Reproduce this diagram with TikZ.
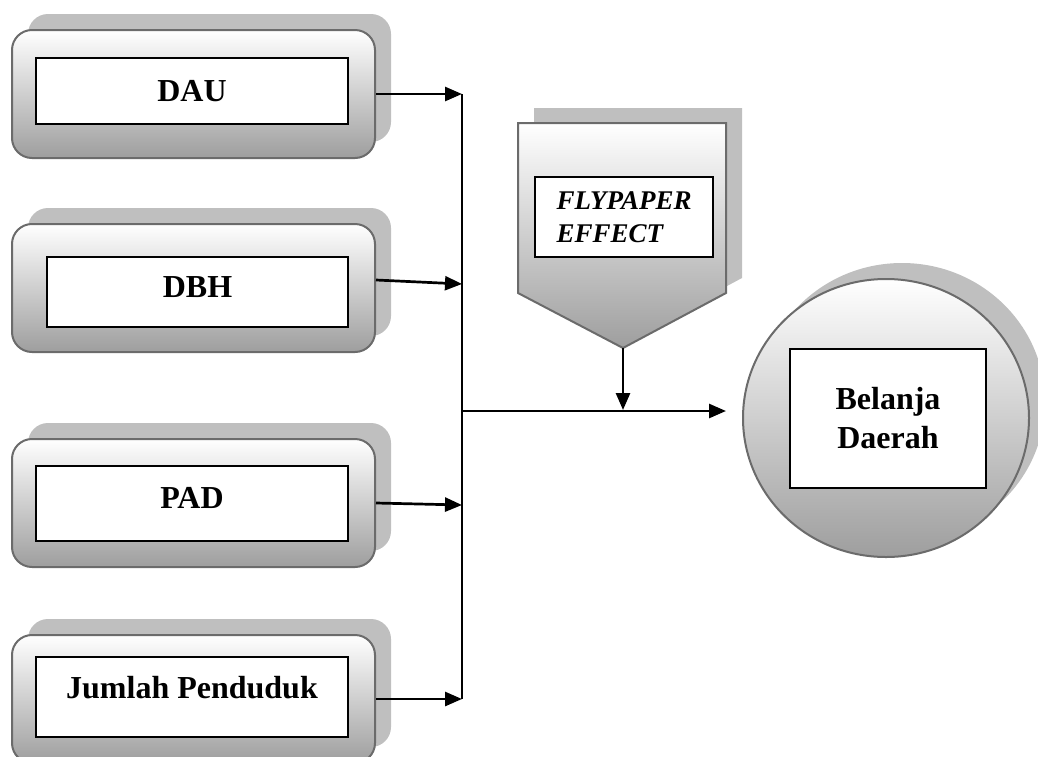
\documentclass[tikz,border=0pt]{standalone}
\usepackage{fontspec}
\setmainfont{Liberation Serif}
\usepackage{tikz}
\usetikzlibrary{arrows.meta,positioning,shadows,shapes.geometric}
\tikzset{
frontbox/.style={draw=black!58, line width=1pt, top color=white, bottom color=black!38},
backshadow/.style={general shadow={fill=black!25, shadow xshift=8pt, shadow yshift=8pt}},
sourcebox/.style={frontbox, backshadow, rounded corners=10pt, minimum width=181.5pt, minimum height=64pt, inner sep=0pt},
labelbox/.style={draw=black, fill=white, line width=1pt, inner sep=0pt, font=\fontsize{16}{19.5}\selectfont\bfseries}
      }
\tikzstyle{arrow} = [line width=1.35pt,-{Triangle[length=8.5pt,width=7pt]}]

\begin{document}
\begin{tikzpicture}[x=0.5pt,y=-0.5pt]
                \useasboundingbox (0,0) rectangle (1038,756);
                \clip (0,0) rectangle (1038,756);
                % variabel bebas
                \node[sourcebox] (dau) at (193.5,94) {};
                \node[sourcebox] (dbh) at (193.5,288) {};
                \node[sourcebox] (pad) at (193.5,503) {};
                \node[sourcebox] (pend) at (193.5,699) {};
                \node[labelbox, minimum width=156pt, minimum height=33pt] (daut) at (192,91) {DAU};
                \node[labelbox, minimum width=150.5pt, minimum height=35pt, text depth=5pt] (dbht) at (197.5,292) {DBH};
                \node[labelbox, minimum width=156pt, minimum height=37.5pt, text depth=6pt] (padt) at (192,503.5) {PAD};
                \node[labelbox, minimum width=156pt, minimum height=40pt, text depth=10pt] (pendt) at (192,697) {Jumlah Penduduk};
                % flypaper effect
                \fill[black!25] (534,108) -- (742,108) -- (742,278) -- (639,333) -- (534,278) -- cycle;
                \draw[frontbox] (518,123) -- (726,123) -- (726,293) -- (623,348) -- (518,293) -- cycle;
                \coordinate (flytip) at (623,348);
                \node[labelbox, font=\fontsize{13.5}{16.5}\selectfont\bfseries\itshape, align=left, minimum width=89pt, minimum height=40pt] (fly) at (624,217) {FLYPAPER\\EFFECT};
                % belanja daerah
                \node[ellipse, frontbox, backshadow, minimum width=143pt, minimum height=139pt, inner sep=0pt] (bd) at (886,418) {};
                \node[labelbox, align=center, minimum width=98pt, minimum height=69.5pt] (bdt) at (888,418.5) {Belanja\\Daerah};
                % garis
                \coordinate (b1) at (462,94);
                \coordinate (b2) at (462,284);
                \coordinate (b3) at (462,505);
                \coordinate (b4) at (462,699);
                \coordinate (bmid) at (462,411);
                \coordinate (flyin) at (623,410);
                \coordinate (bdin) at (726,411);
                \draw[line width=1.35pt] (b1) -- (b4);
                \draw[arrow] (dau.east) -- (b1);
                \draw[arrow] ([yshift=4pt]dbh.east) -- (b2);
                \draw[arrow] (pad.east) -- (b3);
                \draw[arrow] (pend.east) -- (b4);
                \draw[arrow] (bmid) -- (bdin);
                \draw[arrow] (flytip) -- (flyin);
            \end{tikzpicture}
\end{document}
